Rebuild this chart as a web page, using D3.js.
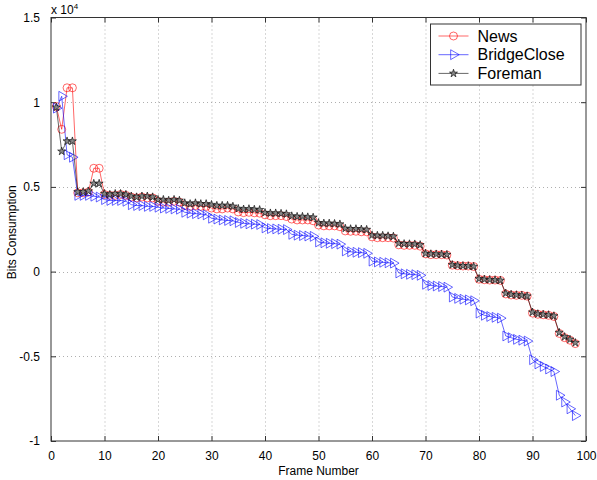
<!DOCTYPE html>
<html>
<head>
<meta charset="utf-8">
<script src="https://cdn.jsdelivr.net/npm/d3@7"></script>
<style>
  body { margin: 0; background: #fff; }
  text { font-family: Arial, "Liberation Sans", sans-serif; }
</style>
</head>
<body>
<svg id="chart" width="597" height="480"></svg>
<script>
// values in units of 1e4 bits, frames 1..98
const news = [
  0.975, 0.84, 1.085, 1.085, 0.465, 0.465, 0.47, 0.61, 0.61,
  0.455, 0.45, 0.45, 0.455, 0.45,
  0.44, 0.435, 0.44, 0.435, 0.435,
  0.415, 0.41, 0.41, 0.415, 0.41,
  0.39, 0.385, 0.39, 0.385, 0.385,
  0.375, 0.37, 0.37, 0.375, 0.37,
  0.352, 0.348, 0.35, 0.347, 0.345,
  0.335, 0.33, 0.33, 0.33, 0.325,
  0.31, 0.305, 0.305, 0.305, 0.3,
  0.275, 0.27, 0.27, 0.27, 0.265,
  0.24, 0.238, 0.238, 0.235, 0.235,
  0.205, 0.2, 0.2, 0.2, 0.198,
  0.158, 0.155, 0.155, 0.155, 0.15,
  0.105, 0.1, 0.1, 0.1, 0.098,
  0.038, 0.035, 0.033, 0.033, 0.03,
  -0.045, -0.048, -0.05, -0.05, -0.052,
  -0.132, -0.138, -0.14, -0.14, -0.145,
  -0.245, -0.252, -0.255, -0.258, -0.265,
  -0.365, -0.39, -0.405, -0.425
];
const bridgeClose = [
  0.965, 1.035, 0.69, 0.675, 0.45, 0.45, 0.45, 0.445, 0.44,
  0.425, 0.42, 0.42, 0.42, 0.415,
  0.395, 0.39, 0.39, 0.385, 0.385,
  0.38, 0.375, 0.373, 0.37, 0.368,
  0.35, 0.345, 0.342, 0.34, 0.335,
  0.315, 0.31, 0.305, 0.302, 0.3,
  0.29, 0.285, 0.282, 0.28, 0.278,
  0.258, 0.254, 0.252, 0.25, 0.248,
  0.22, 0.215, 0.213, 0.21, 0.208,
  0.175, 0.17, 0.167, 0.165, 0.162,
  0.122, 0.117, 0.114, 0.112, 0.108,
  0.062, 0.057, 0.055, 0.052, 0.05,
  -0.008, -0.013, -0.016, -0.018, -0.022,
  -0.075, -0.082, -0.085, -0.088, -0.092,
  -0.15, -0.158, -0.163, -0.167, -0.172,
  -0.245, -0.258, -0.265, -0.27, -0.275,
  -0.38, -0.39, -0.4, -0.405, -0.41,
  -0.52, -0.545, -0.56, -0.575, -0.59,
  -0.73, -0.77, -0.81, -0.85
];
const foreman = [
  0.97, 0.71, 0.77, 0.77, 0.47, 0.47, 0.475, 0.52, 0.52,
  0.46, 0.455, 0.46, 0.46, 0.455,
  0.445, 0.44, 0.445, 0.445, 0.44,
  0.425, 0.425, 0.42, 0.425, 0.42,
  0.405, 0.4, 0.405, 0.4, 0.4,
  0.395, 0.39, 0.39, 0.39, 0.385,
  0.372, 0.368, 0.37, 0.367, 0.365,
  0.348, 0.345, 0.345, 0.343, 0.34,
  0.328, 0.325, 0.325, 0.322, 0.32,
  0.288, 0.285, 0.285, 0.283, 0.28,
  0.255, 0.252, 0.252, 0.25, 0.248,
  0.215, 0.213, 0.213, 0.21, 0.208,
  0.167, 0.164, 0.163, 0.162, 0.158,
  0.107, 0.104, 0.103, 0.102, 0.1,
  0.04, 0.036, 0.034, 0.033, 0.03,
  -0.042, -0.046, -0.048, -0.05, -0.052,
  -0.128, -0.135, -0.138, -0.14, -0.145,
  -0.24, -0.25, -0.253, -0.256, -0.262,
  -0.36, -0.385, -0.4, -0.42
];
const xTicks = [0, 10, 20, 30, 40, 50, 60, 70, 80, 90, 100];
const yTicks = [-1, -0.5, 0, 0.5, 1, 1.5];
const seriesNames = ['News', 'BridgeClose', 'Foreman'];

const svg = d3.select('#chart');
const margin = { top: 17.5, right: 11, bottom: 39, left: 51 };
const width = +svg.attr('width');
const height = +svg.attr('height');

const x = d3.scaleLinear().domain([0, 100]).range([margin.left, width - margin.right]);
const y = d3.scaleLinear().domain([-1, 1.5]).range([height - margin.bottom, margin.top]);

svg.append('rect').attr('width', width).attr('height', height).attr('fill', '#fff');

// dotted grid
const grid = svg.append('g').attr('stroke', '#9a9a9a').attr('stroke-width', 0.8)
  .attr('stroke-dasharray', '1,3');
grid.selectAll('.gx').data(xTicks.slice(1, -1)).enter().append('line')
  .attr('x1', d => x(d) + 0.5).attr('x2', d => x(d) + 0.5)
  .attr('y1', y(1.5)).attr('y2', y(-1));
grid.selectAll('.gy').data(yTicks.slice(1, -1)).enter().append('line')
  .attr('y1', d => Math.round(y(d)) + 0.5).attr('y2', d => Math.round(y(d)) + 0.5)
  .attr('x1', x(0)).attr('x2', x(100));

// axes, ticks pointing inward on all sides
const axisColor = '#333';
const styleAxis = g => {
  g.select('.domain').remove();
  g.selectAll('line').attr('stroke', axisColor);
  g.selectAll('text').attr('fill', '#000').style('font-size', '12px');
};
svg.append('g').attr('transform', `translate(0,${y(-1)})`)
  .call(d3.axisBottom(x).tickValues(xTicks).tickSizeInner(-5).tickPadding(10).tickFormat(d3.format('d')))
  .call(styleAxis);
svg.append('g').attr('transform', `translate(0,${y(1.5)})`)
  .call(d3.axisTop(x).tickValues(xTicks).tickSizeInner(-5).tickFormat(''))
  .call(styleAxis);
svg.append('g').attr('transform', `translate(${x(0)},0)`)
  .call(d3.axisLeft(y).tickValues(yTicks).tickSizeInner(-5).tickPadding(11).tickFormat(d => d))
  .call(styleAxis);
svg.append('g').attr('transform', `translate(${x(100)},0)`)
  .call(d3.axisRight(y).tickValues(yTicks).tickSizeInner(-5).tickFormat(''))
  .call(styleAxis);

svg.append('rect')
  .attr('x', x(0)).attr('y', y(1.5))
  .attr('width', x(100) - x(0)).attr('height', y(-1) - y(1.5))
  .attr('fill', 'none').attr('stroke', axisColor).attr('stroke-width', 1);

// exponent label
const expo = svg.append('text').attr('x', x(0)).attr('y', 14).style('font-size', '12px');
expo.append('tspan').text('x 10');
expo.append('tspan').attr('dy', -5).style('font-size', '8px').text('4');

// axis labels
svg.append('text').attr('x', (x(0) + x(100)) / 2).attr('y', 475)
  .attr('text-anchor', 'middle').style('font-size', '12px').text('Frame Number');
svg.append('text').attr('transform', `translate(16,${(y(1.5) + y(-1)) / 2 + 3}) rotate(-90)`)
  .attr('text-anchor', 'middle').style('font-size', '12px').text('Bits Consumption');

// series
const series = [
  { name: seriesNames[0], values: news, color: '#ff0000', symbol: d3.symbolCircle, size: 50, fill: 'none' },
  { name: seriesNames[1], values: bridgeClose, color: '#0000ff', symbol: d3.symbolTriangle, size: 42, rotate: 90, fill: 'none' },
  { name: seriesNames[2], values: foreman, color: '#000000', symbol: d3.symbolStar, size: 20, fill: '#888' }
];

const line = d3.line().x((d, i) => x(i + 1)).y(d => y(d));

series.forEach(s => {
  const g = svg.append('g');
  g.append('path').datum(s.values)
    .attr('d', line).attr('fill', 'none')
    .attr('stroke', s.color).attr('stroke-width', 0.6);
  g.selectAll('path.m').data(s.values).enter().append('path')
    .attr('class', 'm')
    .attr('d', d3.symbol().type(s.symbol).size(s.size))
    .attr('transform', (d, i) => `translate(${x(i + 1)},${y(d)}) rotate(${s.rotate || 0})`)
    .attr('fill', s.fill)
    .attr('stroke', s.color).attr('stroke-width', 0.6);
});

// legend
const lg = svg.append('g').attr('transform', 'translate(430.5,24)');
lg.append('rect').attr('width', 150.5).attr('height', 61)
  .attr('fill', '#fff').attr('stroke', axisColor).attr('stroke-width', 1);
series.forEach((s, i) => {
  const ly = 12 + i * 18.7;
  lg.append('line').attr('x1', 8).attr('x2', 38).attr('y1', ly).attr('y2', ly)
    .attr('stroke', s.color).attr('stroke-width', 0.6);
  lg.append('path')
    .attr('d', d3.symbol().type(s.symbol).size(s.size))
    .attr('transform', `translate(23,${ly}) rotate(${s.rotate || 0})`)
    .attr('fill', s.fill)
    .attr('stroke', s.color).attr('stroke-width', 0.6);
  lg.append('text').attr('x', 47).attr('y', ly + 5.5)
    .style('font-size', '16px').text(s.name);
});
</script>
</body>
</html>
